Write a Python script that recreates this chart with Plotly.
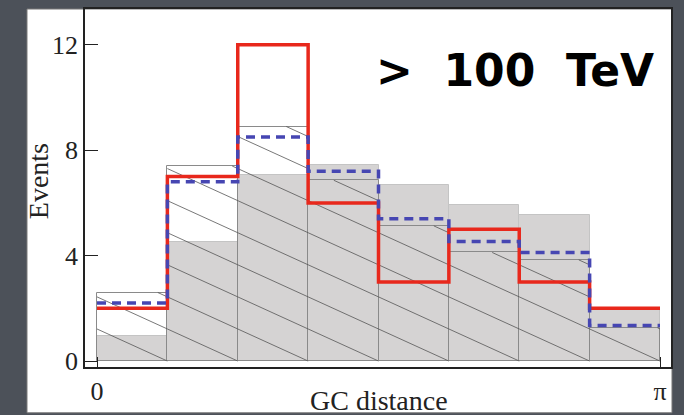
import numpy as np
import plotly.graph_objects as go

# ---- data ----
n_bins = 8
observed = [2, 7, 12, 6, 3, 5, 3, 2]                      # red solid
model = [2.2, 6.8, 8.5, 7.2, 5.4, 4.54, 4.12, 1.35]       # blue dashed
background_gray = [0.95, 4.5, 7.05, 7.45, 6.67, 5.91, 5.55, 1.95]
hatched_hist = [2.6, 7.4, 8.9, 6.86, 5.13, 4.12, 3.84, 1.26]
x_tickvals = [0, np.pi]
x_ticktext = ["0", "π"]
y_tickvals = [0, 4, 8, 12]

# ---- derived ----
edges = np.linspace(0, np.pi, n_bins + 1)
centers = (edges[:-1] + edges[1:]) / 2
bw = np.pi / n_bins

fig = go.Figure()
fig.add_bar(x=centers, y=background_gray, width=bw,
            marker=dict(color="#d5d3d3", line=dict(color="#c4c4c4", width=1)),
            showlegend=False)
fig.add_bar(x=centers, y=hatched_hist, width=bw,
            marker=dict(color="rgba(0,0,0,0)", line=dict(color="#8a8a8a", width=1)),
            showlegend=False)

# hatching (style): lines y = s*(e_k - x), clipped to the hatched histogram
s = 3.1
hx, hy = [], []
for i in range(n_bins):
    a, b, h = edges[i], edges[i + 1], hatched_hist[i]
    k0 = int(np.floor(a / bw))
    k1 = int(np.ceil((b + h / s) / bw)) + 1
    for k in range(k0, k1):
        e = k * bw
        x0 = max(a, e - h / s)
        x1 = min(b, e)
        if x1 > x0 + 1e-9:
            hx += [x0, x1, None]
            hy += [s * (e - x0), s * (e - x1), None]
fig.add_scatter(x=hx, y=hy, mode="lines", line=dict(color="#555555", width=0.8),
                hoverinfo="skip", showlegend=False)

fig.add_scatter(x=edges, y=observed + [observed[-1]], mode="lines",
                line=dict(shape="hv", color="#e8281c", width=3.5), showlegend=False)
fig.add_scatter(x=edges, y=model + [model[-1]], mode="lines",
                line=dict(shape="hv", color="#4646b2", width=3.5, dash="9px,6px"),
                showlegend=False)

serif = "Liberation Serif"
axis_common = dict(showline=True, linecolor="#222222", mirror=True, showgrid=False,
                   zeroline=False, ticks="inside", tickcolor="#222222",
                   tickfont=dict(family=serif, size=26, color="#222222"))

fig.update_layout(
    width=684, height=415,
    margin=dict(l=85, r=13, t=7, b=48),
    paper_bgcolor="#4c5159", plot_bgcolor="white",
    barmode="overlay", bargap=0,
    xaxis=dict(range=[-0.067, 3.203], tickvals=x_tickvals, ticktext=x_ticktext,
               ticklen=10, linewidth=2, **axis_common),
    yaxis=dict(range=[-0.226, 13.36], tickvals=y_tickvals, ticklen=13,
               linewidth=1.5, **axis_common),
    shapes=[dict(type="rect", xref="paper", yref="paper", x0=-0.099, x1=1.0017,
                 y0=-0.128, y1=1.0, fillcolor="white",
                 line=dict(color="#777777", width=1), layer="below")],
    annotations=[
        dict(text="Events", xref="paper", yref="paper", x=-0.0802, y=0.519,
             textangle=-90, showarrow=False, xanchor="center", yanchor="middle",
             font=dict(family=serif, size=28, color="#222222")),
        dict(text="GC distance", xref="paper", yref="paper", x=0.5017, y=-0.046,
             showarrow=False, xanchor="center", yanchor="top",
             font=dict(family=serif, size=28, color="#222222")),
        dict(text=">\u00a0\u00a0100\u00a0\u00a0TeV", xref="paper", yref="paper",
             x=0.7338, y=0.828, showarrow=False, xanchor="center", yanchor="middle",
             font=dict(family="DejaVu Sans", size=44, color="black", weight="bold")),
    ],
)

fig.write_html("out.html")
